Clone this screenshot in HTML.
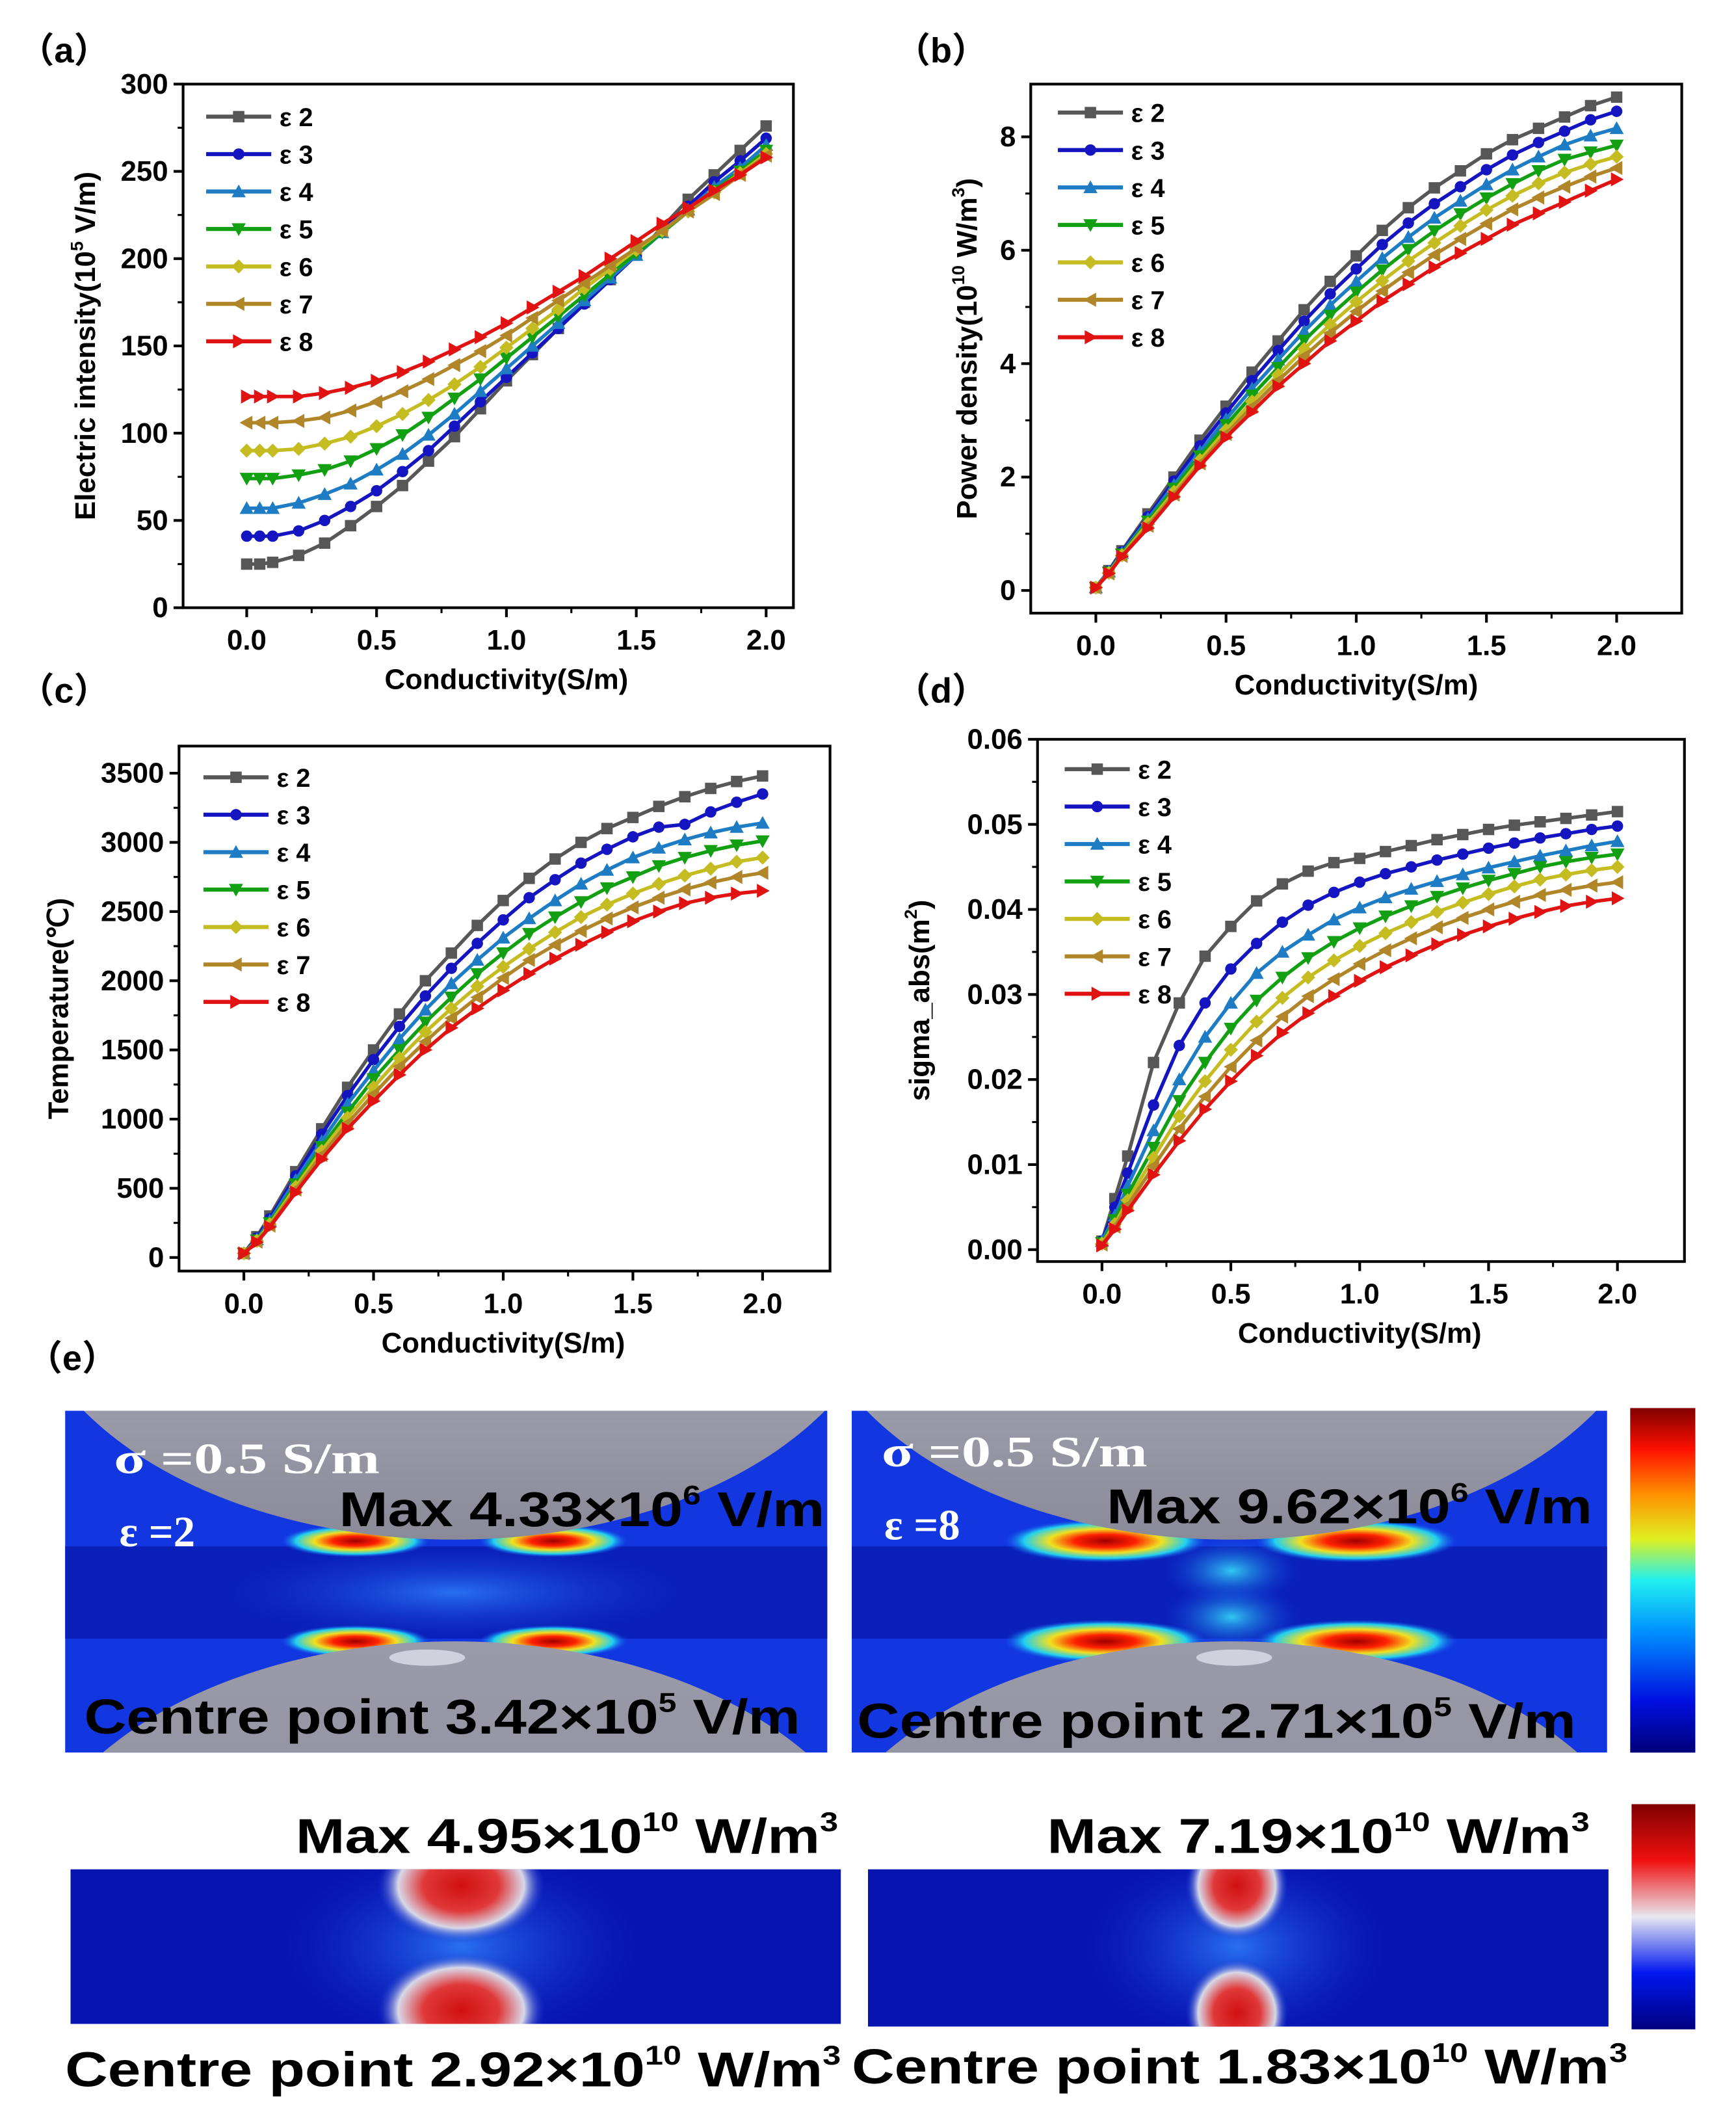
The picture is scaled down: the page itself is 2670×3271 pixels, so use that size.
<!DOCTYPE html>
<html><head><meta charset="utf-8"><style>
html,body{margin:0;padding:0;background:#fff;overflow:hidden;}
svg{display:block;}
text{font-family:"Liberation Sans",Arial,sans-serif;}
text.pl{font-family:"Liberation Sans","Noto Sans CJK SC",sans-serif;}
text.serif{font-family:"Liberation Serif",serif;}
</style></head><body>
<svg id="fig" width="2670" height="3271" viewBox="0 0 1280 1568" preserveAspectRatio="none" xmlns="http://www.w3.org/2000/svg">
<defs>
<radialGradient id="hotL" cx="0.5" cy="0.5" r="0.5"><stop offset="0" stop-color="#d01010"/><stop offset="0.45" stop-color="#e03838"/><stop offset="0.75" stop-color="#d8d8e8"/><stop offset="1" stop-color="#1030d0" stop-opacity="0"/></radialGradient>
<radialGradient id="hotE" cx="0.5" cy="0.5" r="0.5"><stop offset="0" stop-color="#a00000"/><stop offset="0.3" stop-color="#ff2000"/><stop offset="0.55" stop-color="#f0e020"/><stop offset="0.8" stop-color="#20d0f0"/><stop offset="1" stop-color="#1050f0" stop-opacity="0"/></radialGradient>
<radialGradient id="glowC" cx="0.5" cy="0.5" r="0.5"><stop offset="0" stop-color="#30c8f0"/><stop offset="1" stop-color="#1040e0" stop-opacity="0"/></radialGradient>
<radialGradient id="glowB" cx="0.5" cy="0.5" r="0.5"><stop offset="0" stop-color="#2870f0"/><stop offset="1" stop-color="#1030d0" stop-opacity="0"/></radialGradient>
<linearGradient id="sphere" x1="0" y1="0" x2="0" y2="1"><stop offset="0" stop-color="#d0d0dc"/><stop offset="1" stop-color="#8a8a98"/></linearGradient>
<linearGradient id="sphere2" x1="0" y1="0" x2="0" y2="1"><stop offset="0" stop-color="#9a9aa8"/><stop offset="1" stop-color="#80808e"/></linearGradient>
<linearGradient id="cbE" x1="0" y1="1" x2="0" y2="0"><stop offset="0" stop-color="#00007a"/><stop offset="0.15" stop-color="#0010e0"/><stop offset="0.35" stop-color="#0090ff"/><stop offset="0.5" stop-color="#20f0f0"/><stop offset="0.62" stop-color="#e0f020"/><stop offset="0.75" stop-color="#ff9000"/><stop offset="0.88" stop-color="#ff1000"/><stop offset="1" stop-color="#800000"/></linearGradient>
<linearGradient id="cbP" x1="0" y1="1" x2="0" y2="0"><stop offset="0" stop-color="#000080"/><stop offset="0.25" stop-color="#0018f0"/><stop offset="0.5" stop-color="#e8e8f0"/><stop offset="0.75" stop-color="#f01010"/><stop offset="1" stop-color="#800000"/></linearGradient>
<clipPath id="c1"><rect x="48" y="1040" width="562" height="252"/></clipPath>
<clipPath id="c2"><rect x="628" y="1040" width="557" height="252"/></clipPath>
<clipPath id="c3"><rect x="52" y="1378" width="568" height="114"/></clipPath>
<clipPath id="c4"><rect x="640" y="1378" width="546" height="116"/></clipPath>
</defs>
<g id="charts"></g>
<g id="panel-e"></g>
</svg>
<script>
// ---------- data ----------
const xVals = [0,0.05,0.1,0.2,0.3,0.4,0.5,0.6,0.7,0.8,0.9,1.0,1.1,1.2,1.3,1.4,1.5,1.6,1.7,1.8,1.9,2.0];
const seriesNames = ["ε 2","ε 3","ε 4","ε 5","ε 6","ε 7","ε 8"];
const xTicks = [0,0.5,1.0,1.5,2.0];
const xTickLabels = ["0.0","0.5","1.0","1.5","2.0"];

const eA2 = [25,25,26,30,37,47,58,70,84,98,114,130,145,160,175,188,202,218,234,248,262,276];
const eA3 = [41,41,41,44,50,58,67,78,90,104,118,132,146,160,174,188,202,216,230,244,256,269];
const eA4 = [57,57,57,60,65,71,79,88,99,111,124,137,150,163,176,189,202,215,228,241,252,265];
const eA5 = [74,74,74,76,79,84,91,99,109,120,131,143,155,167,179,191,203,215,227,239,250,262];
const eA6 = [90,90,90,91,94,98,104,111,119,128,138,149,160,171,183,194,205,216,227,238,249,260];
const eA7 = [106,106,106,107,109,113,118,124,131,139,147,156,166,176,186,196,206,216,227,237,248,259];
const eA8 = [121,121,121,121,123,126,130,135,141,148,155,163,172,181,190,200,210,220,229,239,248,258];
const yTicksA = [0,50,100,150,200,250,300];

const pB2 = [0.05,0.35,0.7,1.35,2.0,2.65,3.25,3.85,4.4,4.95,5.45,5.9,6.35,6.75,7.1,7.4,7.7,7.95,8.15,8.35,8.55,8.7];
const pB3 = [0.05,0.34,0.68,1.3,1.93,2.55,3.13,3.7,4.23,4.75,5.23,5.67,6.1,6.48,6.82,7.12,7.42,7.68,7.9,8.1,8.3,8.45];
const pB4 = [0.05,0.33,0.66,1.26,1.86,2.45,3.02,3.56,4.07,4.57,5.03,5.45,5.86,6.23,6.57,6.87,7.16,7.42,7.65,7.86,8.02,8.15];
const pB5 = [0.05,0.32,0.64,1.22,1.8,2.37,2.92,3.44,3.93,4.41,4.85,5.26,5.65,6.01,6.34,6.64,6.92,7.17,7.4,7.6,7.73,7.85];
const pB6 = [0.05,0.31,0.62,1.18,1.74,2.3,2.83,3.33,3.8,4.26,4.69,5.09,5.46,5.81,6.13,6.43,6.71,6.96,7.18,7.37,7.52,7.65];
const pB7 = [0.05,0.3,0.61,1.14,1.69,2.24,2.76,3.24,3.7,4.13,4.54,4.92,5.28,5.61,5.92,6.2,6.47,6.72,6.93,7.12,7.3,7.45];
const pB8 = [0.05,0.3,0.6,1.1,1.65,2.2,2.7,3.15,3.6,4.0,4.4,4.75,5.1,5.4,5.7,5.95,6.2,6.45,6.65,6.85,7.05,7.25];
const yTicksB = [0,2,4,6,8];

const tC2 = [30,150,300,620,930,1230,1500,1760,2000,2200,2400,2580,2740,2880,3000,3100,3180,3260,3330,3390,3440,3480];
const tC3 = [30,140,280,590,890,1170,1430,1670,1890,2090,2270,2440,2600,2730,2850,2950,3040,3110,3130,3220,3290,3350];
const tC4 = [30,130,265,560,840,1110,1350,1580,1790,1980,2150,2310,2450,2580,2700,2800,2890,2960,3020,3070,3110,3140];
const tC5 = [30,125,250,530,800,1050,1290,1500,1700,1880,2050,2200,2340,2460,2570,2670,2750,2830,2890,2940,2980,3010];
const tC6 = [30,120,240,510,770,1010,1230,1440,1630,1800,1960,2100,2230,2350,2460,2550,2630,2700,2760,2810,2860,2890];
const tC7 = [30,115,230,490,740,970,1180,1380,1560,1730,1880,2020,2150,2260,2360,2450,2530,2600,2660,2710,2750,2780];
const tC8 = [30,110,220,470,710,930,1130,1320,1500,1660,1800,1930,2050,2160,2260,2350,2430,2500,2560,2600,2630,2650];
const yTicksC = [0,500,1000,1500,2000,2500,3000,3500];

const sD2 = [0.001,0.006,0.011,0.022,0.029,0.0345,0.038,0.041,0.043,0.0445,0.0455,0.046,0.0468,0.0475,0.0482,0.0488,0.0494,0.0499,0.0503,0.0507,0.0511,0.0515];
const sD3 = [0.001,0.005,0.009,0.017,0.024,0.029,0.033,0.036,0.0385,0.0405,0.042,0.0432,0.0442,0.045,0.0458,0.0465,0.0472,0.0478,0.0484,0.0489,0.0494,0.0498];
const sD4 = [0.001,0.004,0.0075,0.014,0.02,0.025,0.029,0.0325,0.035,0.037,0.0388,0.0402,0.0414,0.0424,0.0433,0.0441,0.0449,0.0456,0.0463,0.0469,0.0475,0.048];
const sD5 = [0.0008,0.0035,0.0065,0.012,0.0175,0.022,0.026,0.0293,0.032,0.0343,0.0362,0.0378,0.0392,0.0404,0.0415,0.0425,0.0434,0.0442,0.045,0.0456,0.0461,0.0465];
const sD6 = [0.0007,0.003,0.0058,0.0108,0.0157,0.0198,0.0235,0.0268,0.0296,0.032,0.034,0.0357,0.0372,0.0385,0.0397,0.0408,0.0418,0.0427,0.0435,0.0441,0.0446,0.045];
const sD7 = [0.0006,0.0027,0.0052,0.0098,0.0142,0.018,0.0215,0.0246,0.0274,0.0298,0.0318,0.0336,0.0352,0.0366,0.0379,0.039,0.04,0.0409,0.0417,0.0423,0.0428,0.0432];
const sD8 = [0.0005,0.0024,0.0046,0.0088,0.0128,0.0165,0.0198,0.0228,0.0255,0.0278,0.0298,0.0316,0.0332,0.0346,0.0359,0.037,0.038,0.0389,0.0397,0.0404,0.0409,0.0413];
const yTicksD = [0,0.01,0.02,0.03,0.04,0.05,0.06];
const yTickLabelsD = ["0.00","0.01","0.02","0.03","0.04","0.05","0.06"];

const colors = ["#575757","#1414c0","#1e7cc4","#12a012","#c4bc20","#b08628","#e01212"];
const markers = ["square","circle","up","down","diamond","left","right"];

const NS = "http://www.w3.org/2000/svg";
function mk(tag, attrs, parent){const e=document.createElementNS(NS,tag);for(const k in attrs)e.setAttribute(k,attrs[k]);parent.appendChild(e);return e;}

function marker(g,type,x,y,c){
  const s=4.2;let e;
  if(type==="square") e=mk("rect",{x:x-s,y:y-s,width:2*s,height:2*s,fill:c},g);
  else if(type==="circle") e=mk("circle",{cx:x,cy:y,r:s,fill:c},g);
  else {
    let p;
    if(type==="up") p=[[x,y-s-1],[x-s-1,y+s],[x+s+1,y+s]];
    if(type==="down") p=[[x,y+s+1],[x-s-1,y-s],[x+s+1,y-s]];
    if(type==="diamond") p=[[x,y-s-1],[x+s+1,y],[x,y+s+1],[x-s-1,y]];
    if(type==="left") p=[[x-s-1,y],[x+s,y-s-1],[x+s,y+s+1]];
    if(type==="right") p=[[x+s+1,y],[x-s,y-s-1],[x-s,y+s+1]];
    e=mk("polygon",{points:p.map(a=>a.join(",")).join(" "),fill:c},g);
  }
  
  
}

function chart(cfg){
  const root=document.getElementById("charts");
  const g=mk("g",{},root);
  
  
  const {x0,x1,y0,y1,xmin,xmax,ymin,ymax}=cfg;
  const sx=v=>x0+(v-xmin)/(xmax-xmin)*(x1-x0);
  const sy=v=>y1-(v-ymin)/(ymax-ymin)*(y1-y0);
  cfg.series.forEach((arr,i)=>{
    const sg=mk("g",{},g);
    
    
    const d=arr.map((v,j)=>(j?"L":"M")+sx(xVals[j]).toFixed(2)+","+sy(v).toFixed(2)).join("");
    const p=mk("path",{d:d,fill:"none",stroke:colors[i],"stroke-width":2.6,"stroke-linejoin":"round"},sg);
    
    
    arr.forEach((v,j)=>marker(sg,markers[i],sx(xVals[j]),sy(v),colors[i]));
  });
  const fr=mk("rect",{x:x0,y:y0,width:x1-x0,height:y1-y0,fill:"none",stroke:"#000","stroke-width":2},g);
  
  
  xTicks.forEach((v,i)=>{
    const X=sx(v);
    mk("line",{x1:X,y1:y1,x2:X,y2:y1+7,stroke:"#000","stroke-width":2},g);
    if(i<xTicks.length-1) mk("line",{x1:sx(v+0.25),y1:y1,x2:sx(v+0.25),y2:y1+4,stroke:"#000","stroke-width":1.5},g);
    const t=mk("text",{x:X,y:y1+31,"text-anchor":"middle","font-size":21,"font-weight":"bold"},g);
    t.textContent=xTickLabels[i];
    
    
  });
  cfg.yTicks.forEach((v,i)=>{
    const Y=sy(v);
    mk("line",{x1:x0-7,y1:Y,x2:x0,y2:Y,stroke:"#000","stroke-width":2},g);
    if(i<cfg.yTicks.length-1){const Ym=sy((v+cfg.yTicks[i+1])/2);mk("line",{x1:x0-4,y1:Ym,x2:x0,y2:Ym,stroke:"#000","stroke-width":1.5},g);}
    const t=mk("text",{x:x0-11,y:Y+7,"text-anchor":"end","font-size":21,"font-weight":"bold"},g);
    t.textContent=cfg.yLabels?cfg.yLabels[i]:String(v);
    
    
  });
  const xt=mk("text",{x:(sx(0)+sx(2))/2,y:y1+60,"text-anchor":"middle","font-size":21,"font-weight":"bold"},g);
  xt.textContent="Conductivity(S/m)";
  
  
  const yt=mk("text",{x:0,y:0,"text-anchor":"middle","font-size":21,"font-weight":"bold",transform:`translate(${cfg.ytx},${(y0+y1)/2+cfg.ytdy}) rotate(-90)`},g);
  yt.innerHTML=cfg.ytitle;
  
  
  const lg=mk("g",{},g);
  
  
  seriesNames.forEach((n,i)=>{
    const Y=cfg.ly+i*27.6;
    const e=mk("g",{},lg);
    
    
    mk("line",{x1:cfg.lx,y1:Y,x2:cfg.lx+48,y2:Y,stroke:colors[i],"stroke-width":3},e);
    marker(e,markers[i],cfg.lx+24,Y,colors[i]);
    const t=mk("text",{x:cfg.lx+54,y:Y+7,"font-size":19,"font-weight":"bold"},e);
    t.textContent=n;
  });
  const pl=mk("text",{x:cfg.plx,y:cfg.ply,"font-size":26,"font-weight":"bold","class":"pl"},g);
  pl.textContent=cfg.label;
  
  
}

chart({name:"chart-a-electric-intensity",label:"（a）",plx:14,ply:46,x0:135,x1:585,y0:62,y1:448,xmin:-0.245,xmax:2.105,ymin:0,ymax:300,yTicks:yTicksA,
  series:[eA2,eA3,eA4,eA5,eA6,eA7,eA8],lx:152,ly:86,ytx:70,ytdy:0,ytitle:'Electric intensity(10<tspan font-size="13" dy="-9">5</tspan><tspan dy="9"> V/m)</tspan>'});
chart({name:"chart-b-power-density",label:"（b）",plx:660,ply:46,x0:760,x1:1240,y0:62,y1:452,xmin:-0.25,xmax:2.25,ymin:-0.4,ymax:8.93,yTicks:yTicksB,
  series:[pB2,pB3,pB4,pB5,pB6,pB7,pB8],lx:780,ly:83,ytx:720,ytdy:0,ytitle:'Power density(10<tspan font-size="13" dy="-9">10</tspan><tspan dy="9"> W/m</tspan><tspan font-size="13" dy="-9">3</tspan><tspan dy="9">)</tspan>'});
chart({name:"chart-c-temperature",label:"（c）",plx:14,ply:518,x0:132,x1:612,y0:550,y1:937,xmin:-0.25,xmax:2.26,ymin:-98,ymax:3696,yTicks:yTicksC,
  series:[tC2,tC3,tC4,tC5,tC6,tC7,tC8],lx:150,ly:573,ytx:50,ytdy:0,ytitle:'Temperature(℃)'});
chart({name:"chart-d-sigma-abs",label:"（d）",plx:660,ply:518,x0:765,x1:1242,y0:545,y1:930,xmin:-0.25,xmax:2.26,ymin:-0.0014,ymax:0.06,yTicks:yTicksD,yLabels:yTickLabelsD,
  series:[sD2,sD3,sD4,sD5,sD6,sD7,sD8],lx:785,ly:567,ytx:685,ytdy:0,ytitle:'sigma_abs(m<tspan font-size="13" dy="-9">2</tspan><tspan dy="9">)</tspan>'});

// ---------- panel e ----------
const E=document.getElementById("panel-e");
E.innerHTML = `
<text class="pl" x="20" y="1010" font-size="26" font-weight="bold">（e）</text>
<g clip-path="url(#c1)">
 <rect x="48" y="1040" width="562" height="252" fill="#1236e0"/>
 <rect x="48" y="1140" width="562" height="68" fill="#0a20b8"/>
 <ellipse cx="335" cy="1174" rx="170" ry="34" fill="url(#glowB)"/>
 <ellipse cx="262" cy="1136" rx="55" ry="12" fill="url(#hotE)"/>
 <ellipse cx="408" cy="1136" rx="55" ry="12" fill="url(#hotE)"/>
 <ellipse cx="262" cy="1210" rx="55" ry="12" fill="url(#hotE)"/>
 <ellipse cx="408" cy="1210" rx="55" ry="12" fill="url(#hotE)"/>
 <ellipse cx="335" cy="935" rx="321" ry="200" fill="url(#sphere)"/>
 <ellipse cx="335" cy="1410" rx="321" ry="200" fill="url(#sphere2)"/>
 <ellipse cx="315" cy="1222" rx="28" ry="6" fill="#e8e8f4" opacity="0.7"/>
</g>
<g clip-path="url(#c2)">
 <rect x="628" y="1040" width="557" height="252" fill="#1236e0"/>
 <rect x="628" y="1140" width="557" height="68" fill="#0a20b8"/>
 <ellipse cx="908" cy="1158" rx="50" ry="25" fill="url(#glowC)"/>
 <ellipse cx="908" cy="1192" rx="50" ry="25" fill="url(#glowC)"/>
 <ellipse cx="815" cy="1136" rx="75" ry="16" fill="url(#hotE)"/>
 <ellipse cx="1000" cy="1136" rx="75" ry="16" fill="url(#hotE)"/>
 <ellipse cx="815" cy="1210" rx="75" ry="16" fill="url(#hotE)"/>
 <ellipse cx="1000" cy="1210" rx="75" ry="16" fill="url(#hotE)"/>
 <ellipse cx="908" cy="935" rx="316" ry="200" fill="url(#sphere)"/>
 <ellipse cx="908" cy="1410" rx="316" ry="200" fill="url(#sphere2)"/>
 <ellipse cx="910" cy="1222" rx="28" ry="6" fill="#e8e8f4" opacity="0.7"/>
</g>
<rect x="1202" y="1038" width="48" height="254" fill="url(#cbE)"/>
<g font-weight="bold" fill="#fff" font-size="32">
 <text class="serif" x="84" y="1086" textLength="196" lengthAdjust="spacingAndGlyphs">σ =0.5 S/m</text>
 <text class="serif" x="88" y="1140">ε =2</text>
 <text class="serif" x="650" y="1081" textLength="196" lengthAdjust="spacingAndGlyphs">σ =0.5 S/m</text>
 <text class="serif" x="652" y="1135">ε =8</text>
</g>
<g font-weight="bold" fill="#000" font-size="36">
 <text x="250" y="1125" textLength="358" lengthAdjust="spacingAndGlyphs">Max 4.33×10<tspan font-size="20" dy="-16">6</tspan><tspan dy="16"> V/m</tspan></text>
 <text x="816" y="1123" textLength="358" lengthAdjust="spacingAndGlyphs">Max 9.62×10<tspan font-size="20" dy="-16">6</tspan><tspan dy="16"> V/m</tspan></text>
 <text x="62" y="1278" textLength="528" lengthAdjust="spacingAndGlyphs">Centre point 3.42×10<tspan font-size="20" dy="-16">5</tspan><tspan dy="16"> V/m</tspan></text>
 <text x="632" y="1281" textLength="530" lengthAdjust="spacingAndGlyphs">Centre point 2.71×10<tspan font-size="20" dy="-16">5</tspan><tspan dy="16"> V/m</tspan></text>
</g>
<g clip-path="url(#c3)">
 <rect x="52" y="1378" width="568" height="114" fill="#0814b0"/>
 <ellipse cx="340" cy="1435" rx="130" ry="70" fill="url(#glowB)"/>
 <ellipse cx="340" cy="1390" rx="62" ry="42" fill="url(#hotL)"/>
 <ellipse cx="340" cy="1482" rx="62" ry="42" fill="url(#hotL)"/>
</g>
<g clip-path="url(#c4)">
 <rect x="640" y="1378" width="546" height="116" fill="#0814b0"/>
 <ellipse cx="912" cy="1435" rx="110" ry="70" fill="url(#glowB)"/>
 <ellipse cx="912" cy="1390" rx="38" ry="40" fill="url(#hotL)"/>
 <ellipse cx="912" cy="1484" rx="38" ry="40" fill="url(#hotL)"/>
</g>
<rect x="1203" y="1330" width="47" height="166" fill="url(#cbP)"/>
<g font-weight="bold" fill="#000" font-size="36">
 <text x="218" y="1366" textLength="400" lengthAdjust="spacingAndGlyphs">Max 4.95×10<tspan font-size="20" dy="-16">10</tspan><tspan dy="16"> W/m</tspan><tspan font-size="20" dy="-16">3</tspan></text>
 <text x="772" y="1366" textLength="400" lengthAdjust="spacingAndGlyphs">Max 7.19×10<tspan font-size="20" dy="-16">10</tspan><tspan dy="16"> W/m</tspan><tspan font-size="20" dy="-16">3</tspan></text>
 <text x="48" y="1538" textLength="572" lengthAdjust="spacingAndGlyphs">Centre point 2.92×10<tspan font-size="20" dy="-16">10</tspan><tspan dy="16"> W/m</tspan><tspan font-size="20" dy="-16">3</tspan></text>
 <text x="628" y="1536" textLength="572" lengthAdjust="spacingAndGlyphs">Centre point 1.83×10<tspan font-size="20" dy="-16">10</tspan><tspan dy="16"> W/m</tspan><tspan font-size="20" dy="-16">3</tspan></text>
</g>`;
</script>
</body></html>
